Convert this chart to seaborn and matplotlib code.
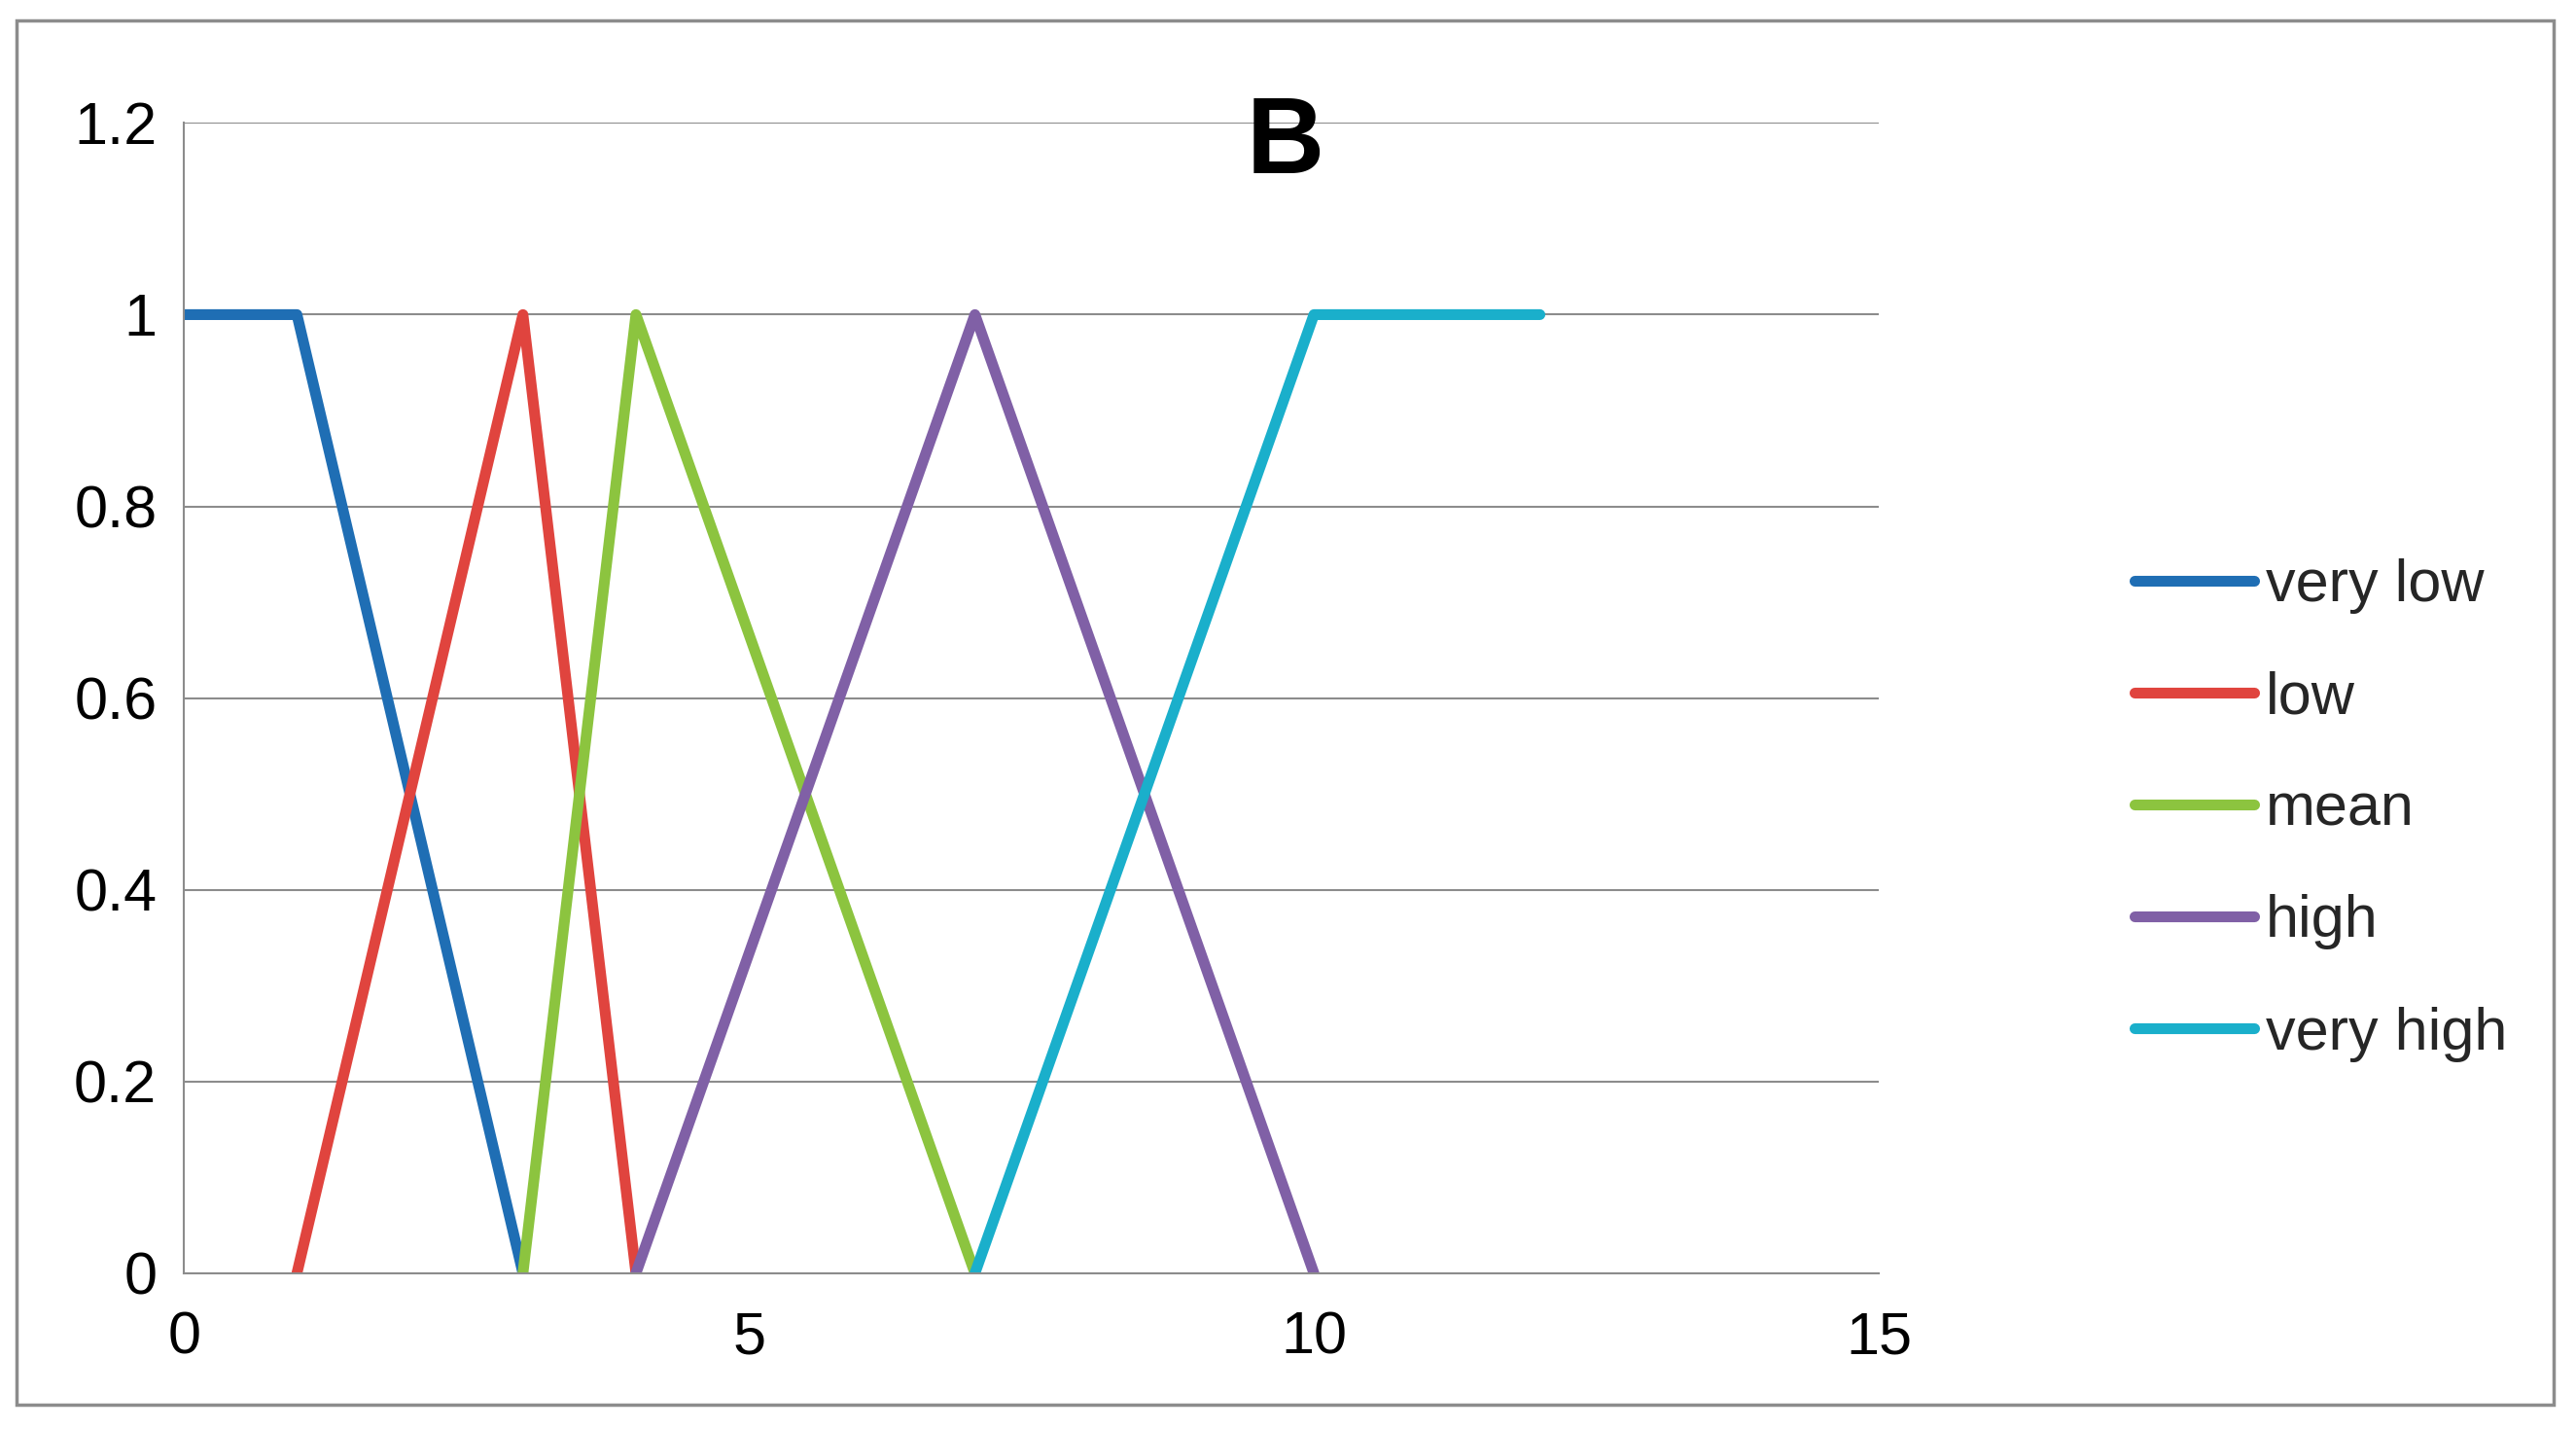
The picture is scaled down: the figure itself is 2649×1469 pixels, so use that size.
import matplotlib
matplotlib.use("Agg")
import matplotlib.pyplot as plt
import seaborn as sns
import pandas as pd

names = ["very low", "low", "mean", "high", "very high"]
xs = [[0, 1, 3], [1, 3, 4], [3, 4, 7], [4, 7, 10], [7, 10, 12]]
ys = [[1, 1, 0], [0, 1, 0], [0, 1, 0], [0, 1, 0], [0, 1, 1]]
colors = ["#1F6EB4", "#E0443E", "#8CC43F", "#8060A6", "#1AAFCB"]

rows = []
for n, x, y in zip(names, xs, ys):
    for a, b in zip(x, y):
        rows.append({"x": a, "y": b, "name": n})
df = pd.DataFrame(rows)

sns.set_theme(style="white")
plt.rcParams['font.family'] = ['Liberation Sans', 'DejaVu Sans']
fig = plt.figure(figsize=(26.49, 14.69), dpi=100)
ax = fig.add_axes([0.0714, 0.109, 0.658, 0.805])
sns.lineplot(data=df, x="x", y="y", hue="name", palette=colors, hue_order=names,
             linewidth=8, ax=ax, sort=False, estimator=None, legend=True)
ax.set_xlim(0, 15)
ax.set_ylim(0, 1.2)
ax.set_xticks([0, 5, 10, 15])
ax.set_yticks([0, 0.2, 0.4, 0.6, 0.8, 1, 1.2])
ax.set_yticklabels(["0", "0.2", "0.4", "0.6", "0.8", "1", "1.2"])
ax.yaxis.grid(True, color="#8C8C8C", linewidth=1.5)
for s in ["top", "right"]:
    ax.spines[s].set_visible(False)
for s in ["left", "bottom"]:
    ax.spines[s].set_color("#8C8C8C")
    ax.spines[s].set_linewidth(1.5)
ax.tick_params(axis="both", labelsize=44, colors="black", length=10, width=1.5,
               color="#8C8C8C", direction="out")
ax.tick_params(axis="x", pad=18)
ax.tick_params(axis="y", length=0, pad=20)
ax.set_xlabel("")
ax.set_ylabel("")
ax.text(0.65, 1.025, "B", transform=ax.transAxes, ha="center", va="top",
        fontsize=80, fontweight="bold", color="black")
h, l = ax.get_legend_handles_labels()
ax.get_legend().remove()
fig.legend(h, l, loc="center left", bbox_to_anchor=(0.808, 0.433), frameon=False,
           fontsize=44, handlelength=2.0, handletextpad=0.2, labelspacing=0.95)
border = plt.Rectangle((0.0064, 0.017), 0.985, 0.969, transform=fig.transFigure,
                       fill=False, edgecolor="#8C8C8C", linewidth=2.5)
fig.patches.append(border)
fig.savefig("out.png", dpi=100)
